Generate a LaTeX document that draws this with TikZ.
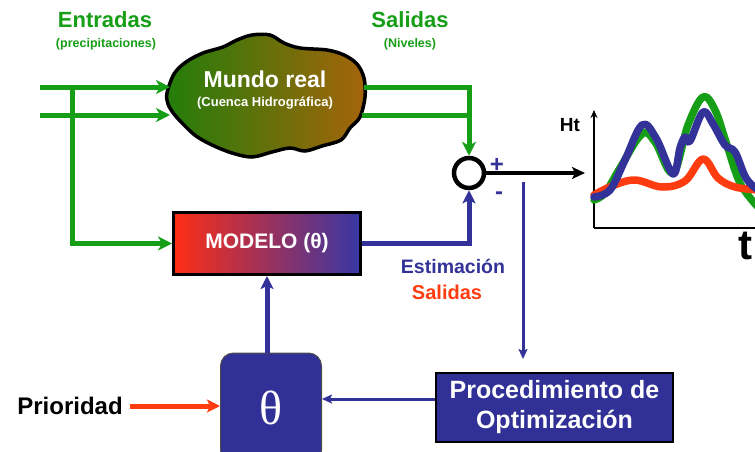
\documentclass[tikz,border=0pt]{standalone}
\usepackage{fontspec}
\setmainfont{Liberation Sans}
\newfontfamily\serifgreek{Liberation Serif}
\usetikzlibrary{arrows.meta}
\definecolor{cgreen}{RGB}{22,158,22}
\definecolor{cblue}{RGB}{50,50,152}
\definecolor{cred}{RGB}{255,60,15}
\definecolor{cloudL}{RGB}{35,125,10}
\definecolor{cloudR}{RGB}{165,100,10}
\definecolor{modL}{RGB}{255,45,20}
\definecolor{modR}{RGB}{55,55,165}
\definecolor{boxblue}{RGB}{48,48,150}
\begin{document}
\begin{tikzpicture}[x=1pt,y=-1pt,
  fsz/.style={font=\fontsize{#1}{#1}\selectfont\bfseries},
  title/.style={cgreen,fsz=22},
  subtitle/.style={cgreen,fsz=12.5},
  gline/.style={cgreen,line width=5pt},
  garrow/.style={gline,-{Stealth[length=14pt,width=14pt,inset=4pt]}},
  barrow/.style={cblue,line width=5pt,-{Stealth[length=13pt,width=13pt,inset=3pt]}},
  thinblue/.style={cblue,line width=3pt,-{Stealth[length=10pt,width=9pt,inset=2pt]}},
  redarrow/.style={cred,line width=5pt,-{Stealth[length=13pt,width=13pt,inset=3pt]}},
  curve/.style={line width=7.5pt,line cap=round,line join=round}
]
\useasboundingbox (0,0) rectangle (755,452);
\clip (0,0) rectangle (755,452);

% titles
\node[title] (entr) at (105,20) {Entradas};
\node[subtitle] (prec) at (106,44) {(precipitaciones)};
\node[title] (sal) at (410,20) {Salidas};
\node[subtitle] (niv) at (410,44) {(Niveles)};

% cloud
\path[draw=black,line width=3.5pt,left color=cloudL,right color=cloudR]
  plot[smooth cycle,tension=0.55] coordinates {(167,93) (174,74) (186,62) (203,53) (223,47) (237,40) (252,35) (270,35) (284,43) (300,48) (327,50) (344,55) (357,64) (364,78) (365,97) (360,117) (350,128) (341,140) (322,146) (305,151) (290,148) (272,152) (252,157) (232,153) (212,145) (196,136) (184,125) (174,114) (168,104)};
\node[white,fsz=23] (mundo) at (265,79) {Mundo real};
\node[white,fsz=13] (cuenca) at (265,103) {(Cuenca Hidrográfica)};

% coordinates
\coordinate (in1) at (40,87);
\coordinate (in2) at (40,115);
\coordinate (cl1) at (170,87);
\coordinate (cl2) at (170,115);
\coordinate (co1) at (364,87);
\coordinate (co2) at (362,115);
\coordinate (split) at (72,87);

% boxes
\node[draw=black,line width=3pt,left color=modL,right color=modR,
      minimum width=187pt,minimum height=62pt,text=white,fsz=21] (modelo) at (267,243.5) {MODELO (θ)};
\node[circle,draw=black,line width=4.5pt,minimum size=30pt,inner sep=0pt] (sum) at (469,173) {};
\node[fill=boxblue,draw=black,line width=1.5pt,minimum width=237pt,minimum height=69pt,
      align=center,text=white,font=\fontsize{25}{30}\selectfont\bfseries] (proc) at (554.5,407.5) {Procedimiento de\\Optimización};
\node[fill=boxblue,draw=black!70,line width=1pt,rounded corners=13pt,minimum width=101pt,minimum height=110pt,
      text=white,font=\fontsize{48}{48}\selectfont\serifgreek] (theta) at (271,408) {θ};

% green connectors
\draw[garrow] (in1) -- (cl1);
\draw[garrow] (in2) -- (cl2);
\draw[garrow] (split) |- (modelo.west);
\draw[gline] (co2) -- (co2 -| sum.north);
\draw[garrow,line join=miter] (co1) -| (sum.north);

% sum signs
\node[cblue,fsz=24,inner sep=0pt,anchor=base] (plus) at (497,172) {+};
\node[cblue,fsz=24,inner sep=0pt,anchor=base] (minus) at (499,199.5) {-};

% output arrow
\coordinate (graphL) at (585,173);
\draw[line width=3.5pt,-{Stealth[length=13pt,width=12pt,inset=3pt]}] (sum.east) -- (graphL);

% estimation
\draw[barrow,line join=miter] (modelo.east) -| (sum.south);
\node[cblue,fsz=19.5] (estim) at (453,266) {Estimación};
\node[cred,fsz=20] (salest) at (447,292) {Salidas};

% tap to optimization
\coordinate (tap) at (523,182);
\coordinate (tapEnd) at (523,359);
\draw[thinblue] (tap) -- (tapEnd);

% optimization to theta
\coordinate (optY) at (0,399);
\draw[thinblue] (proc.west |- optY) -- (theta.east |- optY);

% theta to modelo
\draw[barrow] (modelo.south |- theta.north) -- (modelo.south);

% prioridad
\node[fsz=24] (prio) at (70,406) {Prioridad};
\draw[redarrow] ([xshift=4pt]prio.east) -- (theta.west |- prio.east);

% graph
\coordinate (org) at (594,228);
\coordinate (ytop) at (594,110);
\coordinate (xend) at (760,228);
\draw[line width=2pt,-{Stealth[length=8pt,width=7pt]}] (org) -- (ytop);
\draw[line width=2pt] (org) -- (xend);
\node[fsz=19] (ht) at (570,125) {Ht};
\node[fsz=42] (tlab) at (745,246) {t};
\draw[curve,cgreen] plot[smooth,tension=0.6] coordinates {(594,200) (605,193) (620,168) (642,134) (655,142) (673,173) (688,125) (703,97) (715,110) (726,142) (740,183) (758,207)};
\draw[curve,cred] plot[smooth,tension=0.6] coordinates {(594,195) (612,186) (635,180) (662,187) (685,181) (703,159) (718,178) (735,187) (758,190)};
\draw[curve,cblue] plot[smooth,tension=0.6] coordinates {(594,197) (610,190) (625,160) (642,125) (656,138) (673,174) (680,148) (685,137) (690,141) (703,112) (713,124) (725,145) (735,152) (746,178) (758,190)};
\end{tikzpicture}
\end{document}
